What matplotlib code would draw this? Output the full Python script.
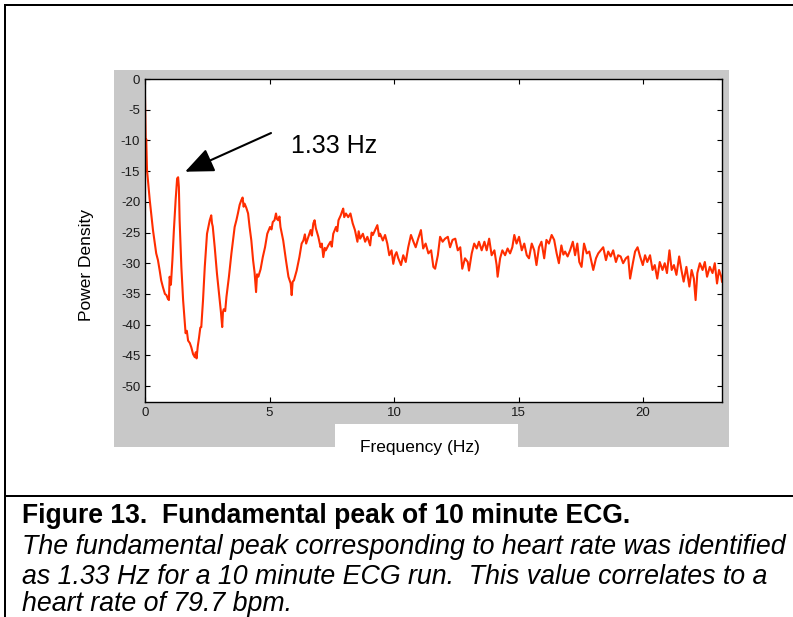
import matplotlib
matplotlib.use("Agg")
import matplotlib.pyplot as plt
from matplotlib.patches import Rectangle
from matplotlib.lines import Line2D

# ---------------- data ----------------
freq_hz = [0.00, 0.02, 0.03, 0.05, 0.08, 0.19, 0.32, 0.45, 0.52, 0.59, 0.65, 0.72, 0.80, 0.86, 0.92, 0.96,
           0.99, 1.04, 1.10, 1.16, 1.23, 1.29, 1.33, 1.36, 1.39, 1.46, 1.53, 1.63, 1.68, 1.73, 1.80, 1.86,
           1.93, 2.00, 2.04, 2.07, 2.12, 2.17, 2.22, 2.26, 2.33, 2.40, 2.49, 2.55, 2.60, 2.66, 2.69, 2.72,
           2.80, 2.89, 3.00, 3.05, 3.10, 3.13, 3.16, 3.22, 3.27, 3.37, 3.47, 3.60, 3.67, 3.73, 3.80, 3.87,
           3.92, 3.96, 4.00, 4.07, 4.14, 4.20, 4.27, 4.34, 4.40, 4.46, 4.50, 4.55, 4.64, 4.73, 4.82, 4.91,
           5.02, 5.08, 5.13, 5.20, 5.26, 5.30, 5.35, 5.40, 5.44, 5.55, 5.66, 5.76, 5.85, 5.89, 5.93, 5.98,
           6.09, 6.20, 6.29, 6.36, 6.42, 6.47, 6.56, 6.65, 6.70, 6.76, 6.81, 6.86, 6.96, 7.05, 7.10, 7.16,
           7.22, 7.26, 7.36, 7.45, 7.50, 7.56, 7.67, 7.72, 7.77, 7.86, 7.92, 7.96, 8.00, 8.07, 8.16, 8.25,
           8.34, 8.43, 8.53, 8.58, 8.64, 8.75, 8.84, 8.93, 9.04, 9.10, 9.15, 9.24, 9.33, 9.40, 9.44, 9.55,
           9.64, 9.73, 9.81, 9.90, 9.97, 10.04, 10.10, 10.17, 10.28, 10.37, 10.47, 10.57, 10.68, 10.78, 10.87, 10.97,
           11.08, 11.17, 11.27, 11.38, 11.49, 11.58, 11.65, 11.76, 11.85, 11.95, 12.05, 12.16, 12.25, 12.35, 12.46, 12.56,
           12.66, 12.74, 12.85, 12.96, 13.01, 13.12, 13.22, 13.32, 13.41, 13.52, 13.63, 13.72, 13.82, 13.92, 14.03, 14.12,
           14.16, 14.26, 14.35, 14.46, 14.56, 14.66, 14.75, 14.83, 14.92, 15.02, 15.13, 15.23, 15.33, 15.42, 15.53, 15.63,
           15.72, 15.82, 15.92, 16.03, 16.12, 16.22, 16.33, 16.43, 16.53, 16.62, 16.72, 16.80, 16.87, 16.97, 17.07, 17.18,
           17.27, 17.36, 17.44, 17.53, 17.63, 17.74, 17.84, 17.94, 18.00, 18.11, 18.20, 18.30, 18.40, 18.51, 18.60, 18.70,
           18.80, 18.91, 19.00, 19.10, 19.20, 19.31, 19.40, 19.48, 19.59, 19.68, 19.78, 19.88, 19.99, 20.08, 20.17, 20.28,
           20.38, 20.47, 20.57, 20.67, 20.78, 20.87, 20.96, 21.06, 21.15, 21.24, 21.34, 21.45, 21.54, 21.63, 21.74, 21.86,
           21.95, 22.04, 22.11, 22.18, 22.28, 22.39, 22.48, 22.57, 22.68, 22.79, 22.88, 22.97, 23.05, 23.14, 23.17]

power_density = [-3.0, -7.5, -10.5, -9.8, -14.8, -19.7, -24.6, -28.4, -29.5, -31.2, -32.8, -33.9, -35.0, -35.2, -35.8, -36.0,
                 -32.2, -33.5, -29.5, -24.6, -19.7, -16.2, -16.0, -17.6, -23.0, -30.6, -36.0, -41.4, -41.0, -42.6, -43.0, -43.7,
                 -44.8, -45.3, -44.5, -45.5, -43.5, -42.1, -40.5, -40.4, -36.0, -30.6, -25.2, -24.0, -23.0, -22.2, -23.5, -24.0,
                 -27.4, -31.7, -36.0, -38.0, -40.4, -38.0, -37.5, -37.8, -35.5, -32.2, -28.4, -24.1, -23.0, -21.9, -20.5, -19.7,
                 -19.3, -20.8, -20.3, -21.0, -21.9, -24.1, -26.3, -29.5, -31.5, -34.7, -31.8, -32.2, -31.0, -29.0, -27.4, -25.2,
                 -24.1, -24.5, -23.3, -23.0, -21.9, -22.8, -23.0, -22.4, -24.1, -26.3, -29.5, -32.2, -33.3, -35.2, -33.0, -32.8,
                 -31.2, -29.0, -26.8, -26.3, -25.3, -26.8, -25.7, -24.6, -25.5, -23.5, -23.0, -24.3, -25.7, -27.4, -26.8, -29.0,
                 -27.5, -27.9, -27.1, -26.5, -27.3, -25.2, -24.1, -24.8, -23.0, -22.2, -21.5, -21.1, -22.5, -21.9, -22.5, -21.9,
                 -23.5, -24.6, -26.5, -24.8, -26.0, -25.2, -26.5, -25.7, -27.1, -25.0, -25.4, -24.6, -23.8, -25.6, -25.2, -26.3,
                 -25.4, -26.8, -28.7, -27.9, -30.1, -28.7, -28.2, -29.2, -30.3, -28.7, -29.8, -27.4, -25.4, -26.5, -27.4, -26.0,
                 -24.6, -27.6, -26.8, -28.4, -27.9, -30.6, -30.9, -28.7, -25.7, -26.5, -26.0, -25.7, -27.4, -26.2, -26.0, -27.9,
                 -27.4, -30.9, -29.2, -29.8, -31.2, -28.4, -26.8, -27.6, -26.5, -27.9, -26.5, -27.9, -26.0, -28.7, -27.9, -30.3,
                 -32.2, -29.2, -27.9, -28.7, -27.6, -28.4, -27.4, -25.4, -26.8, -25.7, -27.9, -26.8, -28.7, -29.2, -26.8, -27.9,
                 -30.3, -27.4, -26.5, -29.2, -26.2, -26.8, -25.4, -26.2, -28.4, -30.0, -27.1, -28.6, -28.1, -28.9, -27.9, -26.5,
                 -28.7, -26.8, -29.8, -30.6, -26.8, -28.4, -28.1, -30.0, -31.1, -29.2, -28.4, -27.9, -27.4, -29.5, -28.1, -28.9,
                 -27.9, -29.8, -28.7, -28.9, -30.0, -29.2, -28.9, -32.5, -30.0, -28.1, -27.4, -28.9, -30.3, -28.7, -29.8, -28.7,
                 -31.1, -30.3, -32.5, -29.8, -31.1, -30.0, -31.6, -27.9, -31.1, -30.3, -31.9, -28.9, -31.1, -33.0, -30.6, -33.8,
                 -31.1, -32.5, -36.0, -31.6, -30.0, -31.1, -29.8, -32.2, -30.6, -31.6, -30.0, -33.3, -31.1, -32.2, -33.0]

x_ticks = [0, 5, 10, 15, 20]
y_ticks = [0, -5, -10, -15, -20, -25, -30, -35, -40, -45, -50]
peak_label = "1.33 Hz"
peak_freq = 1.33
x_label = "Frequency (Hz)"
y_label = "Power Density"
caption_title = "Figure 13.  Fundamental peak of 10 minute ECG."
caption_lines = [
    "The fundamental peak corresponding to heart rate was identified",
    "as 1.33 Hz for a 10 minute ECG run.  This value correlates to a",
    "heart rate of 79.7 bpm.",
]

# ---------------- figure ----------------
W, H = 793, 617
plt.rcParams['font.family'] = ['Liberation Sans', 'DejaVu Sans']
fig = plt.figure(figsize=(W / 100, H / 100), dpi=100)
fig.patch.set_facecolor('white')


def fx(px):
    return px / W


def fy(py):
    return 1 - py / H


# gray MATLAB figure background
fig.patches.append(Rectangle((fx(114), fy(447)), (729 - 114) / W, (447 - 70) / H,
                             transform=fig.transFigure, facecolor='#c8c8c8', edgecolor='none', zorder=0))
# white box behind x label
fig.patches.append(Rectangle((fx(335), fy(447)), (518 - 335) / W, (447 - 424) / H,
                             transform=fig.transFigure, facecolor='white', edgecolor='none', zorder=0.5))

# document frame lines
lw_frame = 2 * 72 / 100
for (x0, y0, x1, y1) in [(5, 5, 5, 617), (5, 5, 793, 5), (5, 496, 793, 496)]:
    fig.lines.append(Line2D([fx(x0), fx(x1)], [fy(y0), fy(y1)], transform=fig.transFigure,
                            color='black', lw=lw_frame, solid_capstyle='projecting'))

ax = fig.add_axes([fx(145), fy(402), (722 - 145) / W, (402 - 79) / H])
ax.set_zorder(3)
ax.set_facecolor('white')
ax.plot(freq_hz, power_density, color='#ff2d00', lw=1.5)
ax.set_xlim(0, 23.17)
ax.set_ylim(-52.6, 0)
ax.set_xticks(x_ticks)
ax.set_yticks(y_ticks)
ax.set_xticklabels([str(v) for v in x_ticks])
ax.set_yticklabels([str(v) for v in y_ticks])
ax.tick_params(direction='in', length=3.6, width=0.8, top=True, right=True,
               labelsize=9.5, labelcolor='#1a1a1a', pad=3.5)
for s in ax.spines.values():
    s.set_linewidth(1.0)
    s.set_color('black')

# annotation
ax.annotate('', xy=(peak_freq + 0.28, -15.1), xytext=(5.06, -8.8),
            arrowprops=dict(arrowstyle='-|>,head_length=1.75,head_width=0.75', color='black',
                            lw=1.5, shrinkA=0, shrinkB=0, mutation_scale=10))
ax.text(5.86, -12.0, peak_label, fontsize=18, va='baseline', ha='left', color='black')

# axis labels
fig.text(fx(419.5), fy(452), x_label, fontsize=12.5, ha='center', va='baseline')
fig.text(fx(87), fy(265), y_label, fontsize=12.5, ha='center', va='center', rotation=90)

# caption with width fitting
renderer = fig.canvas.get_renderer()


def fitted(text_obj, target_px):
    bb = text_obj.get_window_extent(renderer)
    fs = text_obj.get_fontsize() * target_px / bb.width
    text_obj.set_fontsize(fs)
    return fs


t1 = fig.text(fx(22), fy(523), caption_title, fontsize=17, fontweight='bold', ha='left', va='baseline')
fitted(t1, 633 - 22)
t2 = fig.text(fx(22), fy(554), caption_lines[0], fontsize=17, style='italic', ha='left', va='baseline')
fs_i = fitted(t2, 786 - 22)
fig.text(fx(22), fy(584), caption_lines[1], fontsize=fs_i, style='italic', ha='left', va='baseline')
fig.text(fx(22), fy(611), caption_lines[2], fontsize=fs_i, style='italic', ha='left', va='baseline')

fig.savefig('out.png', dpi=100)
